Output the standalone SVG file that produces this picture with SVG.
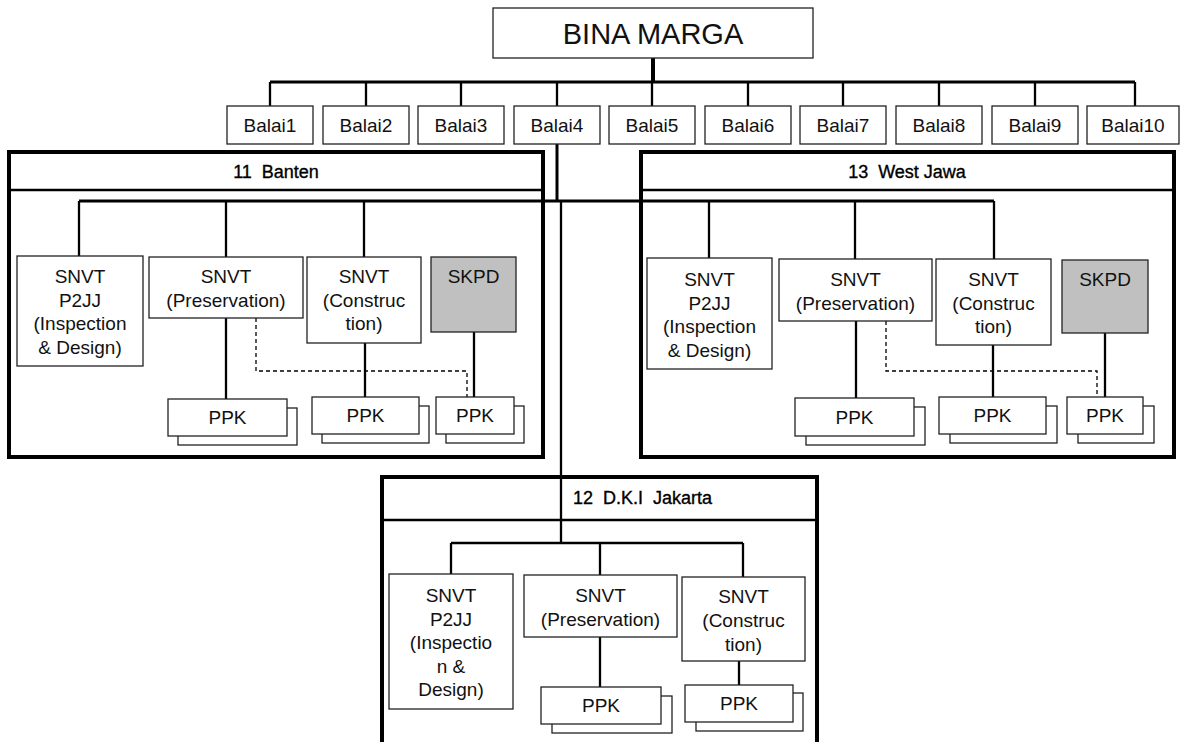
<svg xmlns="http://www.w3.org/2000/svg" width="1183" height="742" viewBox="0 0 1183 742">
<style>
.bg{fill:#fff}
.box{fill:#fff;stroke:#222;stroke-width:1.3}
.gray{fill:#c0c0c0;stroke:#222;stroke-width:1.3}
.region{fill:#fff;stroke:#000;stroke-width:4}
.div{stroke:#000;stroke-width:2.5;fill:none}
.t{font-family:"Liberation Sans",Arial,sans-serif;font-size:19px;fill:#111;text-anchor:middle}
.big{font-size:29px}
.title{font-family:"Liberation Sans",Arial,sans-serif;font-size:18px;fill:#000;stroke:#000;stroke-width:0.35;white-space:pre}
.c{stroke:#000;fill:none}
.w4{stroke-width:4}
.w3{stroke-width:3}
.w2{stroke-width:2.3}
.dash{stroke:#000;stroke-width:1.3;fill:none;stroke-dasharray:4 3}
</style>
<rect class="bg" x="0" y="0" width="1183" height="742"/>

<!-- Region containers -->
<g id="region-banten">
<rect class="region" x="9" y="152" width="534" height="305"/>
<line class="div" x1="9" y1="190" x2="543" y2="190"/>
<text class="title" x="276" y="177.5" text-anchor="middle" xml:space="preserve">11  Banten</text>
</g>
<g id="region-westjawa">
<rect class="region" x="641" y="152" width="533" height="305"/>
<line class="div" x1="641" y1="190" x2="1174" y2="190"/>
<text class="title" x="907" y="177.5" text-anchor="middle" xml:space="preserve">13  West Jawa</text>
</g>
<g id="region-jakarta">
<rect class="region" x="382" y="477" width="435" height="290"/>
<line class="div" x1="382" y1="520" x2="817" y2="520"/>
<text class="title" x="573" y="504" xml:space="preserve">12  D.K.I  Jakarta</text>
</g>

<!-- Connectors -->
<g id="connectors">
<line class="c w4" x1="653" y1="58" x2="653" y2="82"/>
<line class="c w3" x1="270" y1="82" x2="1135" y2="82"/>
<path class="c w2" d="M270 82V106M366 82V106M461 82V106M557 82V106M652 82V106M748 82V106M843 82V106M939 82V106M1035 82V106M1135 82V106"/>
<line class="c w3" x1="557" y1="144" x2="557" y2="201"/>
<line class="c w3" x1="79" y1="201" x2="994" y2="201"/>
<line class="c w2" x1="561" y1="201" x2="561" y2="543"/>
<!-- Banten -->
<path class="c w2" d="M79 201V256M226 201V257M364 201V257"/>
<path class="c w2" d="M226 318V399M365 343V397M474 332V397"/>
<path class="dash" d="M256 318V371H467V397"/>
<!-- West Jawa -->
<path class="c w2" d="M709 201V258M855 201V259M994 201V259"/>
<path class="c w2" d="M856 321V398M993 345V397M1105 333V397"/>
<path class="dash" d="M886 321V371H1097V397"/>
<!-- Jakarta -->
<line class="c w2" x1="451" y1="543" x2="743" y2="543"/>
<path class="c w2" d="M451 543V574M600 543V575M743 543V577"/>
<path class="c w2" d="M600 637V687M739 661V685"/>
</g>

<!-- Top -->
<g id="bina-marga"><rect class="box" x="493" y="8" width="320" height="50"/><text class="t big" x="653" y="43.5">BINA MARGA</text></g>
<g id="balai1"><rect class="box" x="227" y="106" width="86" height="38"/><text class="t" x="270" y="131.5">Balai1</text></g>
<g id="balai2"><rect class="box" x="323" y="106" width="86" height="38"/><text class="t" x="366" y="131.5">Balai2</text></g>
<g id="balai3"><rect class="box" x="418" y="106" width="86" height="38"/><text class="t" x="461" y="131.5">Balai3</text></g>
<g id="balai4"><rect class="box" x="514" y="106" width="86" height="38"/><text class="t" x="557" y="131.5">Balai4</text></g>
<g id="balai5"><rect class="box" x="609" y="106" width="86" height="38"/><text class="t" x="652" y="131.5">Balai5</text></g>
<g id="balai6"><rect class="box" x="705" y="106" width="86" height="38"/><text class="t" x="748" y="131.5">Balai6</text></g>
<g id="balai7"><rect class="box" x="800" y="106" width="86" height="38"/><text class="t" x="843" y="131.5">Balai7</text></g>
<g id="balai8"><rect class="box" x="896" y="106" width="86" height="38"/><text class="t" x="939" y="131.5">Balai8</text></g>
<g id="balai9"><rect class="box" x="992" y="106" width="86" height="38"/><text class="t" x="1035" y="131.5">Balai9</text></g>
<g id="balai10"><rect class="box" x="1087" y="106" width="92" height="38"/><text class="t" x="1133" y="131.5">Balai10</text></g>

<!-- Banten nodes -->
<g id="banten-p2jj"><rect class="box" x="17" y="256" width="126" height="110"/><text class="t" x="80" y="283"><tspan x="80">SNVT</tspan><tspan x="80" dy="23.5">P2JJ</tspan><tspan x="80" dy="23.5">(Inspection</tspan><tspan x="80" dy="23.5">&amp; Design)</tspan></text></g>
<g id="banten-preservation"><rect class="box" x="149" y="257" width="154" height="61"/><text class="t" x="226" y="283"><tspan x="226">SNVT</tspan><tspan x="226" dy="23.5">(Preservation)</tspan></text></g>
<g id="banten-construction"><rect class="box" x="307" y="257" width="114" height="86"/><text class="t" x="364" y="283"><tspan x="364">SNVT</tspan><tspan x="364" dy="23.5">(Construc</tspan><tspan x="364" dy="23.5">tion)</tspan></text></g>
<g id="banten-skpd"><rect class="gray" x="431" y="257" width="85" height="75"/><text class="t" x="473.5" y="283">SKPD</text></g>
<g id="banten-ppk1"><rect class="box" x="178" y="408" width="119" height="37"/><rect class="box" x="168" y="399" width="119" height="37"/><text class="t" x="227.5" y="424">PPK</text></g>
<g id="banten-ppk2"><rect class="box" x="322" y="406" width="107" height="37"/><rect class="box" x="312" y="397" width="107" height="37"/><text class="t" x="365.5" y="422">PPK</text></g>
<g id="banten-ppk3"><rect class="box" x="446" y="406" width="78" height="37"/><rect class="box" x="436" y="397" width="78" height="37"/><text class="t" x="475" y="422">PPK</text></g>

<!-- West Jawa nodes -->
<g id="wj-p2jj"><rect class="box" x="647" y="258" width="125" height="111"/><text class="t" x="709.5" y="286"><tspan x="709.5">SNVT</tspan><tspan x="709.5" dy="23.5">P2JJ</tspan><tspan x="709.5" dy="23.5">(Inspection</tspan><tspan x="709.5" dy="23.5">&amp; Design)</tspan></text></g>
<g id="wj-preservation"><rect class="box" x="779" y="259" width="153" height="62"/><text class="t" x="855.5" y="286"><tspan x="855.5">SNVT</tspan><tspan x="855.5" dy="23.5">(Preservation)</tspan></text></g>
<g id="wj-construction"><rect class="box" x="936" y="259" width="115" height="86"/><text class="t" x="993.5" y="286"><tspan x="993.5">SNVT</tspan><tspan x="993.5" dy="23.5">(Construc</tspan><tspan x="993.5" dy="23.5">tion)</tspan></text></g>
<g id="wj-skpd"><rect class="gray" x="1062" y="260" width="86" height="73"/><text class="t" x="1105" y="286">SKPD</text></g>
<g id="wj-ppk1"><rect class="box" x="806" y="407" width="119" height="38"/><rect class="box" x="795" y="398" width="119" height="38"/><text class="t" x="854.5" y="424">PPK</text></g>
<g id="wj-ppk2"><rect class="box" x="950" y="406" width="107" height="37"/><rect class="box" x="939" y="397" width="107" height="37"/><text class="t" x="992.5" y="422">PPK</text></g>
<g id="wj-ppk3"><rect class="box" x="1078" y="406" width="76" height="37"/><rect class="box" x="1067" y="397" width="76" height="37"/><text class="t" x="1105" y="422">PPK</text></g>

<!-- Jakarta nodes -->
<g id="jkt-p2jj"><rect class="box" x="389" y="574" width="124" height="135"/><text class="t" x="451" y="602"><tspan x="451">SNVT</tspan><tspan x="451" dy="23.5">P2JJ</tspan><tspan x="451" dy="23.5">(Inspectio</tspan><tspan x="451" dy="23.5">n &amp;</tspan><tspan x="451" dy="23.5">Design)</tspan></text></g>
<g id="jkt-preservation"><rect class="box" x="524" y="575" width="153" height="62"/><text class="t" x="600.5" y="602"><tspan x="600.5">SNVT</tspan><tspan x="600.5" dy="23.5">(Preservation)</tspan></text></g>
<g id="jkt-construction"><rect class="box" x="682" y="577" width="123" height="84"/><text class="t" x="743.5" y="603"><tspan x="743.5">SNVT</tspan><tspan x="743.5" dy="24">(Construc</tspan><tspan x="743.5" dy="24">tion)</tspan></text></g>
<g id="jkt-ppk1"><rect class="box" x="552" y="696" width="120" height="37"/><rect class="box" x="541" y="687" width="120" height="37"/><text class="t" x="601" y="712">PPK</text></g>
<g id="jkt-ppk2"><rect class="box" x="696" y="693" width="107" height="38"/><rect class="box" x="685" y="685" width="108" height="37"/><text class="t" x="739" y="710">PPK</text></g>
</svg>
